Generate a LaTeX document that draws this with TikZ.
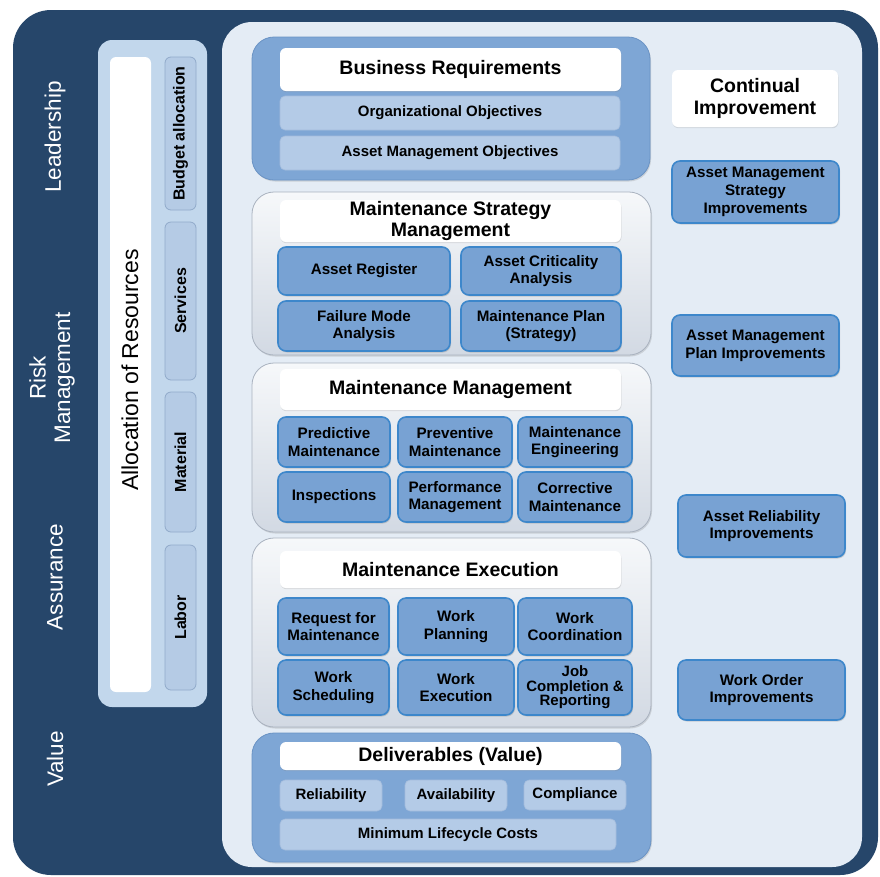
\documentclass[tikz,border=0pt]{standalone}
\usepackage{fontspec}
\setmainfont{Liberation Sans}
\usetikzlibrary{shadows}
\definecolor{darkbg}{HTML}{26466A}
\definecolor{panel}{HTML}{E4ECF5}
\definecolor{allocp}{HTML}{C2D7EC}
\definecolor{resfill}{HTML}{B5CBE5}
\definecolor{resdraw}{HTML}{91AACA}
\definecolor{bluegrp}{HTML}{7EA6D5}
\definecolor{bluegrpd}{HTML}{6A93C4}
\definecolor{subfill}{HTML}{B4CBE7}
\definecolor{subdraw}{HTML}{A3BCDC}
\definecolor{graytop}{HTML}{F6F8FA}
\definecolor{graybot}{HTML}{D2D9E3}
\definecolor{graydraw}{HTML}{A9B2BF}
\definecolor{boxfill}{HTML}{78A2D3}
\definecolor{boxdraw}{HTML}{3D87CB}
\newcommand\mybox[7]{\node[#2, minimum width={(#5-#3)*1pt}, minimum height={(#6-#4)*1pt}] (#1) at ({(#3+#5)/2},{-(#4+#6)/2}) {#7};}
\tikzset{
  base/.style={inner sep=0pt, outer sep=0pt, align=center},
  bluegroup/.style={base, fill=bluegrp, draw=bluegrpd, line width=0.8pt, rounded corners=22pt,
    drop shadow={opacity=0.25, shadow xshift=1pt, shadow yshift=-1.5pt}},
  graygroup/.style={base, top color=graytop, bottom color=graybot, draw=graydraw, line width=0.8pt, rounded corners=22pt,
    drop shadow={opacity=0.25, shadow xshift=1pt, shadow yshift=-1.5pt}},
  titlebox/.style={base, fill=white, rounded corners=6pt, font=\fontsize{19.5}{21.5}\selectfont\bfseries,
    drop shadow={opacity=0.2, shadow xshift=0.5pt, shadow yshift=-1.2pt}},
  subbox/.style={base, fill=subfill, draw=subdraw, line width=0.6pt, rounded corners=5pt, font=\fontsize{15}{18}\selectfont\bfseries},
  bbox/.style={base, fill=boxfill, draw=boxdraw, line width=1.6pt, rounded corners=8pt, font=\fontsize{15.2}{17.8}\selectfont\bfseries,
    drop shadow={opacity=0.3, shadow xshift=1pt, shadow yshift=-1.5pt}},
  tightbox/.style={bbox, font=\fontsize{15}{14.6}\selectfont\bfseries},
  resbox/.style={base, fill=resfill, draw=resdraw, line width=0.8pt, rounded corners=6pt},
  reslabel/.style={rotate=90, font=\fontsize{16}{18}\selectfont\bfseries},
  sidelabel/.style={rotate=90, text=white, align=center, font=\fontsize{22.5}{24.5}\selectfont},
}
\begin{document}
\begin{tikzpicture}[x=1pt,y=1pt]
\useasboundingbox (0,0) rectangle (880,-876);
\fill[white] (0,0) rectangle (880,-876);
% outer frame and panels
\mybox{outer}{base, fill=darkbg, rounded corners=38pt}{13}{10}{878}{875}{}
\mybox{inner}{base, fill=panel, rounded corners=30pt}{222}{22}{862}{867}{}
\mybox{alloc}{base, fill=allocp, rounded corners=14pt}{98}{40}{207}{707}{}
\mybox{strip}{base, fill=white, rounded corners=6pt}{110}{57}{151}{692}{}
\node[rotate=90, font=\fontsize{23}{25}\selectfont] (allocl) at (130,-370) {Allocation of Resources};
\mybox{budget}{resbox}{165}{57}{196}{210}{}
\mybox{services}{resbox}{165}{222}{196}{380}{}
\mybox{material}{resbox}{165}{392}{196}{532}{}
\mybox{labor}{resbox}{165}{545}{196}{690}{}
\node[reslabel] (budgetl) at (budget) {Budget allocation};
\node[reslabel] (servicesl) at (services) {Services};
\node[reslabel] (materiall) at (material) {Material};
\node[reslabel] (laborl) at (labor) {Labor};
% side labels
\node[sidelabel] (lead) at (55,-137) {Leadership};
\node[sidelabel] (risk) at (52,-378) {Risk\\Management};
\node[sidelabel] (assur) at (55,-577) {Assurance};
\node[sidelabel] (value) at (55,-759) {Value};
% Business requirements
\mybox{br}{bluegroup}{252}{37}{650}{180}{}
\mybox{brt}{titlebox}{280}{48}{621}{91}{Business Requirements}
\mybox{org}{subbox}{280}{96}{620}{130}{Organizational Objectives}
\mybox{amo}{subbox}{280}{136}{620}{170}{Asset Management Objectives}
% Maintenance strategy management
\mybox{msm}{graygroup}{252}{192}{651}{355}{}
\mybox{msmt}{titlebox}{280}{200}{621}{242}{Maintenance Strategy\\Management}
\mybox{ar}{bbox}{278}{247}{450}{295}{Asset Register}
\mybox{aca}{bbox}{461}{247}{621}{295}{Asset Criticality\\Analysis}
\mybox{fma}{bbox}{278}{301}{450}{351}{Failure Mode\\Analysis}
\mybox{mp}{bbox}{461}{301}{621}{351}{Maintenance Plan\\(Strategy)}
% Maintenance management
\mybox{mm}{graygroup}{252}{363}{651}{532}{}
\mybox{mmt}{titlebox}{280}{369}{621}{410}{Maintenance Management}
\mybox{pdm}{bbox}{278}{417}{390}{467}{Predictive\\Maintenance}
\mybox{pvm}{bbox}{398}{417}{512}{467}{Preventive\\Maintenance}
\mybox{me}{bbox}{518}{417}{632}{467}{Maintenance\\Engineering}
\mybox{insp}{bbox}{278}{472}{390}{522}{Inspections}
\mybox{perf}{bbox}{398}{472}{512}{522}{Performance\\Management}
\mybox{corr}{bbox}{518}{472}{632}{522}{Corrective\\Maintenance}
% Maintenance execution
\mybox{mex}{graygroup}{252}{538}{651}{727}{}
\mybox{mext}{titlebox}{280}{551}{621}{588}{Maintenance Execution}
\mybox{req}{bbox}{278}{598}{389}{655}{Request for\\Maintenance}
\mybox{wp}{bbox}{398}{598}{514}{655}{Work\\Planning}
\mybox{wc}{bbox}{518}{598}{632}{655}{Work\\Coordination}
\mybox{ws}{bbox}{278}{660}{389}{715}{Work\\Scheduling}
\mybox{we}{bbox}{398}{660}{514}{715}{Work\\Execution}
\mybox{jc}{tightbox}{518}{660}{632}{715}{Job\\Completion \&\\Reporting}
% Deliverables
\mybox{dv}{bluegroup}{252}{733}{651}{862}{}
\mybox{dvt}{titlebox}{280}{742}{621}{770}{Deliverables (Value)}
\mybox{rel}{subbox}{280}{780}{382}{811}{Reliability}
\mybox{avail}{subbox}{405}{780}{507}{811}{\raisebox{-2pt}{Availability}}
\mybox{comp}{subbox}{524}{780}{626}{810}{\raisebox{2pt}{Compliance}}
\mybox{mlc}{subbox}{280}{819}{616}{850}{Minimum Lifecycle Costs}
% Continual improvement
\mybox{ci}{titlebox}{672}{70}{838}{127}{Continual\\Improvement}
\mybox{ams}{bbox}{672}{161}{839}{223}{Asset Management\\Strategy\\Improvements}
\mybox{amp}{bbox}{672}{315}{839}{376}{Asset Management\\Plan Improvements}
\mybox{ari}{bbox}{678}{495}{845}{557}{Asset Reliability\\Improvements}
\mybox{woi}{bbox}{678}{660}{845}{720}{Work Order\\Improvements}
\end{tikzpicture}
\end{document}
